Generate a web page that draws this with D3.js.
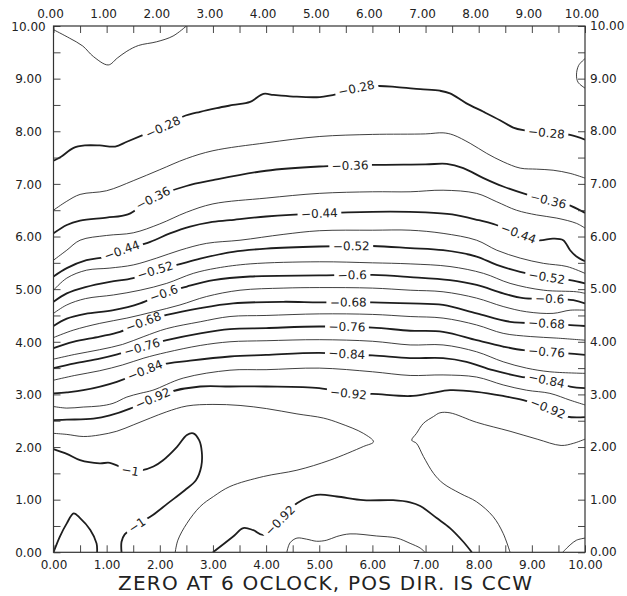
<!DOCTYPE html>
<html>
<head>
<meta charset="utf-8">
<script src="https://cdn.jsdelivr.net/npm/d3@7"></script>
<style>
  body { margin: 0; background: #fff; }
  text { font-family: "DejaVu Sans", sans-serif; fill: #222; }
</style>
</head>
<body>
<div id="chart"></div>
<script>
// Axis ticks
const majorTicks = [0, 1, 2, 3, 4, 5, 6, 7, 8, 9, 10];
const majorLabels = ["0.00", "1.00", "2.00", "3.00", "4.00", "5.00", "6.00", "7.00", "8.00", "9.00", "10.00"];
const minorTicks = [0.5, 1.5, 2.5, 3.5, 4.5, 5.5, 6.5, 7.5, 8.5, 9.5];
const title = "ZERO AT 6 OCLOCK, POS DIR. IS CCW";

// Contour lines, [x, y]
const c024a = [[0,9.93],[0.3,9.77],[0.55,9.62],[0.75,9.42],[1.03,9.26],[1.2,9.39],[1.38,9.52],[1.6,9.63],[1.94,9.70],[2.25,9.81],[2.5,10]];
const c024b = [[10,9.38],[9.88,9.25],[9.84,9.07],[9.87,8.93],[10,8.82]];
const c028 = [[0,7.44],[0.15,7.52],[0.37,7.68],[0.59,7.73],[0.87,7.73],[1.16,7.71],[1.38,7.80],[1.69,7.93],[2.06,8.08],[2.44,8.28],[2.76,8.37],[3.07,8.44],[3.38,8.50],[3.70,8.56],[3.95,8.71],[4.14,8.69],[4.51,8.66],[5.01,8.65],[5.35,8.71],[5.70,8.82],[6.11,8.86],[6.46,8.84],[6.90,8.80],[7.27,8.77],[7.46,8.72],[7.77,8.53],[8.09,8.37],[8.40,8.21],[8.65,8.07],[8.84,8.02],[9.28,7.97],[9.72,7.93],[10,7.84]];
const c032 = [[0,6.50],[0.25,6.67],[0.5,6.80],[1,6.87],[1.5,7.06],[2,7.27],[2.5,7.48],[3,7.63],[4,7.78],[5,7.90],[6,7.94],[7,7.95],[7.33,7.97],[7.52,7.93],[7.84,7.77],[8.15,7.58],[8.46,7.42],[8.78,7.30],[9.09,7.28],[9.40,7.26],[9.72,7.20],[10,7.11]];
const c036 = [[0,6.06],[0.25,6.22],[0.5,6.30],[1,6.36],[1.4,6.42],[1.87,6.73],[2.5,6.96],[3,7.07],[4,7.25],[5,7.33],[6,7.36],[7,7.37],[7.40,7.38],[7.71,7.30],[8.09,7.11],[8.46,6.95],[8.84,6.82],[9.31,6.69],[9.66,6.61],[10,6.45]];
const c040 = [[0,5.55],[0.25,5.74],[0.5,5.93],[1,6.02],[1.5,6.07],[2,6.24],[2.5,6.46],[3,6.62],[4,6.73],[5,6.82],[6,6.85],[6.71,6.85],[7.33,6.88],[7.96,6.82],[8.34,6.66],[8.71,6.50],[9.09,6.41],[9.47,6.35],[9.84,6.25],[10,6.16]];
const c044 = [[0,5.24],[0.25,5.40],[0.62,5.55],[1.0,5.62],[1.29,5.74],[1.82,5.90],[2.19,6.06],[2.57,6.19],[2.94,6.27],[3.32,6.31],[4,6.38],[5,6.44],[6,6.47],[7,6.46],[7.5,6.42],[8,6.31],[8.27,6.24],[8.75,6.06],[9.12,5.93],[9.4,5.96],[9.59,5.93],[9.72,5.74],[9.84,5.62],[10,5.53]];
const c048 = [[0,4.98],[0.25,5.21],[0.62,5.36],[1.06,5.40],[1.5,5.46],[1.94,5.59],[2.38,5.74],[2.88,5.87],[3.51,5.93],[4.32,6.04],[5,6.11],[6,6.12],[6.71,6.12],[7.33,6.06],[7.96,5.93],[8.34,5.74],[8.78,5.59],[9.22,5.49],[9.66,5.43],[10,5.30]];
const c052 = [[0,4.76],[0.25,4.92],[0.6,5.04],[1.06,5.14],[1.5,5.21],[1.91,5.36],[2.32,5.46],[2.76,5.58],[3.38,5.71],[4,5.77],[5,5.81],[6,5.82],[6.71,5.78],[7.33,5.74],[7.96,5.62],[8.34,5.46],[8.78,5.33],[9.28,5.23],[9.72,5.17],[10,5.11]];
const c056 = [[0,4.54],[0.25,4.70],[0.6,4.82],[1.13,4.89],[1.63,4.98],[2.13,5.11],[2.63,5.30],[3.07,5.40],[3.70,5.48],[5,5.52],[6,5.50],[6.71,5.48],[7.46,5.43],[8.09,5.30],[8.59,5.11],[9.22,4.98],[9.84,4.95],[10,4.92]];
const c060 = [[0,4.30],[0.25,4.44],[0.6,4.53],[1.13,4.60],[1.63,4.73],[2.07,4.92],[2.51,5.05],[3.01,5.17],[3.70,5.24],[5,5.26],[6,5.27],[6.71,5.23],[7.46,5.17],[7.96,5.08],[8.46,4.92],[8.84,4.83],[9.34,4.82],[9.78,4.79],[10,4.73]];
const c064 = [[0,4.08],[0.37,4.22],[0.87,4.35],[1.38,4.45],[1.88,4.57],[2.38,4.70],[2.88,4.86],[3.51,4.98],[4.32,5.02],[5,5.03],[6,5.02],[6.71,4.98],[7.33,4.95],[7.96,4.83],[8.46,4.67],[8.90,4.57],[9.40,4.54],[9.72,4.60],[10,4.60]];
const c068 = [[0,3.88],[0.37,4.00],[0.87,4.10],[1.25,4.19],[1.69,4.38],[2.13,4.51],[2.76,4.64],[3.38,4.73],[4.32,4.76],[5,4.75],[6,4.75],[6.71,4.73],[7.33,4.70],[7.96,4.54],[8.59,4.38],[9.28,4.35],[9.66,4.32],[10,4.30]];
const c072 = [[0,3.67],[0.4,3.76],[0.87,3.85],[1.3,3.95],[1.7,4.10],[2.13,4.25],[2.76,4.38],[3.32,4.48],[4,4.50],[5,4.53],[6,4.52],[6.71,4.48],[7.33,4.45],[7.96,4.32],[8.46,4.16],[8.97,4.10],[9.47,4.07],[10,4.03]];
const c076 = [[0,3.50],[0.4,3.59],[0.87,3.68],[1.2,3.76],[1.66,3.90],[2.13,4.03],[2.76,4.16],[3.32,4.24],[4,4.26],[5,4.29],[6,4.27],[6.71,4.21],[7.33,4.19],[7.96,4.03],[8.46,3.91],[8.84,3.84],[9.28,3.81],[9.66,3.78],[10,3.75]];
const c080 = [[0,3.27],[0.4,3.36],[0.87,3.45],[1.3,3.56],[1.7,3.69],[2.13,3.80],[2.76,3.93],[3.32,4.00],[4,4.02],[5,4.04],[6,4.01],[6.71,3.94],[7.33,3.94],[7.96,3.81],[8.46,3.62],[8.90,3.50],[9.34,3.43],[10,3.40]];
const c084 = [[0,3.02],[0.25,3.04],[0.56,3.08],[1.19,3.24],[1.72,3.46],[2.0,3.56],[2.57,3.64],[3.32,3.72],[4,3.75],[5,3.79],[6,3.74],[6.71,3.69],[7.33,3.69],[7.77,3.62],[8.27,3.46],[8.78,3.34],[9.28,3.27],[9.72,3.15],[10,3.12]];
const c088 = [[0,2.77],[0.25,2.74],[0.56,2.76],[0.87,2.78],[1.12,2.83],[1.38,2.95],[1.63,3.02],[1.87,3.08],[2.44,3.31],[3.32,3.46],[4,3.47],[5,3.50],[6,3.43],[6.71,3.36],[7.33,3.37],[7.96,3.33],[8.46,3.18],[8.90,3.08],[9.34,3.02],[9.72,2.89],[10,2.80]];
const c092a = [[0,2.51],[0.25,2.52],[0.75,2.54],[1.06,2.60],[1.44,2.73],[1.87,2.93],[2.19,3.05],[2.76,3.15],[3.32,3.15],[4,3.15],[5,3.12],[5.55,3.02],[6,3.01],[6.71,2.97],[7.08,3.02],[7.46,3.08],[7.96,3.05],[8.46,2.97],[8.84,2.89],[9.30,2.74],[9.66,2.58],[10,2.57]];
const c092b = [[3.0,0],[3.38,0.30],[3.57,0.46],[3.76,0.42],[3.95,0.33],[4.26,0.61],[4.58,0.93],[4.95,1.09],[5.33,1.06],[5.83,0.99],[6.39,0.99],[6.71,0.95],[6.90,0.88],[7.21,0.65],[7.46,0.46],[7.71,0.20],[7.87,0]];
const c096a = [[0,2.26],[0.25,2.24],[0.56,2.20],[0.87,2.23],[1.19,2.30],[1.50,2.42],[1.82,2.55],[2.13,2.67],[2.51,2.78],[3.0,2.81],[3.51,2.79],[4.01,2.73],[4.58,2.63],[5.08,2.55],[5.39,2.45],[5.83,2.26],[6.02,2.10],[5.83,2.01],[5.20,1.75],[4.58,1.56],[3.95,1.44],[3.32,1.25],[3.01,1.06],[2.76,0.87],[2.51,0.55],[2.34,0.23],[2.29,0]];
const c096b = [[10,2.15],[9.78,2.07],[9.55,2.03],[9.1,2.15],[8.59,2.30],[7.96,2.47],[7.46,2.65],[7.27,2.65],[7.15,2.58],[6.96,2.45],[6.83,2.26],[6.74,2.13],[6.83,2.07],[6.96,1.82],[7.15,1.50],[7.33,1.31],[7.65,1.12],[7.96,0.96],[8.27,0.68],[8.46,0.36],[8.59,0]];
const c096c = [[4.39,0],[4.45,0.18],[4.58,0.27],[4.76,0.25],[4.95,0.21],[5.14,0.23],[5.33,0.30],[5.58,0.35],[6.08,0.31],[6.46,0.27],[6.71,0.17],[6.90,0.08],[6.99,0]];
const c096d = [[9.58,0],[9.72,0.14],[9.84,0.23],[10,0.27]];
const c100a = [[0,1.96],[0.25,1.87],[0.50,1.75],[0.87,1.69],[1.06,1.70],[1.41,1.56],[1.63,1.55],[1.88,1.63],[2.05,1.74],[2.32,2.0],[2.51,2.23],[2.63,2.26],[2.74,2.13],[2.79,1.91],[2.78,1.63],[2.68,1.37],[2.47,1.18],[2.15,0.93],[1.87,0.71],[1.57,0.52],[1.34,0.34],[1.28,0.20],[1.28,0]];
const c100b = [[0,0],[0.12,0.30],[0.25,0.55],[0.38,0.74],[0.50,0.65],[0.69,0.43],[0.81,0.17],[0.82,0]];

// Contour labels: [level, x, y]
const contourLabels = [
  [-0.28, 2.06, 8.08], [-0.28, 5.70, 8.82], [-0.28, 9.28, 7.97],
  [-0.36, 1.87, 6.73], [-0.36, 5.58, 7.35], [-0.36, 9.31, 6.69],
  [-0.44, 1.29, 5.74], [-0.44, 5.00, 6.44], [-0.44, 8.75, 6.06],
  [-0.52, 1.91, 5.36], [-0.52, 5.60, 5.82], [-0.52, 9.28, 5.23],
  [-0.6, 2.07, 4.92], [-0.6, 5.62, 5.26], [-0.6, 9.34, 4.82],
  [-0.68, 1.69, 4.38], [-0.68, 5.55, 4.75], [-0.68, 9.28, 4.35],
  [-0.76, 1.66, 3.90], [-0.76, 5.52, 4.28], [-0.76, 9.28, 3.81],
  [-0.84, 1.72, 3.46], [-0.84, 5.52, 3.78], [-0.84, 9.28, 3.27],
  [-0.92, 1.87, 2.93], [-0.92, 5.55, 3.02], [-0.92, 9.30, 2.74], [-0.92, 4.26, 0.61],
  [-1, 1.44, 1.54], [-1, 1.57, 0.52]
];

const contours = [
  {level: -0.24, pts: c024a}, {level: -0.24, pts: c024b},
  {level: -0.28, pts: c028}, {level: -0.32, pts: c032},
  {level: -0.36, pts: c036}, {level: -0.40, pts: c040},
  {level: -0.44, pts: c044}, {level: -0.48, pts: c048},
  {level: -0.52, pts: c052}, {level: -0.56, pts: c056},
  {level: -0.6, pts: c060}, {level: -0.64, pts: c064},
  {level: -0.68, pts: c068}, {level: -0.72, pts: c072},
  {level: -0.76, pts: c076}, {level: -0.80, pts: c080},
  {level: -0.84, pts: c084}, {level: -0.88, pts: c088},
  {level: -0.92, pts: c092a}, {level: -0.92, pts: c092b},
  {level: -0.96, pts: c096a}, {level: -0.96, pts: c096b},
  {level: -0.96, pts: c096c}, {level: -0.96, pts: c096d},
  {level: -1, pts: c100a}, {level: -1, pts: c100b}
];

const margin = {top: 26, right: 42, bottom: 43.7, left: 53.5},
      width = 627 - margin.left - margin.right,
      height = 596 - margin.top - margin.bottom;

const svg = d3.select("#chart")
    .append("svg")
    .attr("width", 627)
    .attr("height", 596)
    .append("g")
    .attr("transform", `translate(${margin.left},${margin.top})`);

const x = d3.scaleLinear().domain([0, 10]).range([0, width]);
const y = d3.scaleLinear().domain([0, 10]).range([height, 0]);

const defs = svg.append("defs");
defs.append("clipPath").attr("id", "plot")
  .append("rect").attr("width", width).attr("height", height);

const line = d3.line()
    .x(d => x(d[0]))
    .y(d => y(d[1]))
    .curve(d3.curveCatmullRom.alpha(0.5));

const isThick = lv => Math.round(Math.abs(lv) * 100) % 8 === 4;

// contour paths
const lines = svg.append("g").attr("clip-path", "url(#plot)");
const paths = contours.map(c => lines.append("path")
    .attr("d", line(c.pts))
    .attr("fill", "none")
    .attr("stroke", "#1e1e1e")
    .attr("stroke-width", isThick(c.level) ? 1.8 : 0.85)
    .attr("stroke-linejoin", "round"));

// labels on the lines, with gaps cut by masks
const gaps = contours.map(() => []);
const labelG = svg.append("g");
contourLabels.forEach(([lv, lx, ly]) => {
  const tx = x(lx), ty = y(ly);
  let best = {d: Infinity};
  contours.forEach((c, i) => {
    if (Math.abs(c.level - lv) > 1e-6) return;
    const node = paths[i].node(), len = node.getTotalLength();
    for (let l = 0; l <= len; l += 0.5) {
      const p = node.getPointAtLength(l);
      const d = (p.x - tx) ** 2 + (p.y - ty) ** 2;
      if (d < best.d) best = {d, i, l, len};
    }
  });
  const node = paths[best.i].node();
  const p = node.getPointAtLength(best.l);
  const a = node.getPointAtLength(Math.max(0, best.l - 4));
  const b = node.getPointAtLength(Math.min(best.len, best.l + 4));
  let ang = Math.atan2(b.y - a.y, b.x - a.x) * 180 / Math.PI;
  if (ang > 90) ang -= 180;
  if (ang < -90) ang += 180;
  const t = labelG.append("text")
      .attr("transform", `translate(${p.x},${p.y}) rotate(${ang})`)
      .attr("text-anchor", "middle")
      .attr("dy", "0.36em")
      .attr("font-size", 12)
      .text(String(lv).replace("-", "\u2212"));
  const w = t.node().getComputedTextLength() + 7;
  gaps[best.i].push({x: p.x, y: p.y, ang, w});
});

gaps.forEach((g, i) => {
  if (!g.length) return;
  const m = defs.append("mask").attr("id", "m" + i)
      .attr("maskUnits", "userSpaceOnUse")
      .attr("x", -100).attr("y", -100).attr("width", 900).attr("height", 900);
  m.append("rect").attr("x", -100).attr("y", -100)
      .attr("width", 900).attr("height", 900).attr("fill", "#fff");
  g.forEach(r => m.append("rect")
      .attr("x", -r.w / 2).attr("y", -6).attr("width", r.w).attr("height", 12)
      .attr("transform", `translate(${r.x},${r.y}) rotate(${r.ang})`)
      .attr("fill", "#000"));
  paths[i].attr("mask", `url(#m${i})`);
});

// axes on all four sides, ticks pointing inside
function styleAxis(g) {
  g.select(".domain").remove();
  g.selectAll("line").attr("stroke", "#333").attr("stroke-width", 0.9);
  g.selectAll("text").attr("font-family", "DejaVu Sans").attr("font-size", 12).attr("fill", "#222");
}
const fmt = (d, i) => majorLabels[i];

svg.append("g").attr("transform", `translate(0,${height})`)
    .call(d3.axisBottom(x).tickValues(majorTicks).tickFormat(fmt).tickSize(-7).tickPadding(8))
    .call(styleAxis);
svg.append("g").attr("transform", `translate(0,${height})`)
    .call(d3.axisBottom(x).tickValues(minorTicks).tickFormat("").tickSize(-7))
    .call(styleAxis);

svg.append("g")
    .call(d3.axisTop(x).tickValues(majorTicks).tickFormat(fmt).tickSize(-7).tickPadding(8))
    .call(styleAxis)
    .call(g => g.selectAll("text").attr("x", -3.5));
svg.append("g")
    .call(d3.axisTop(x).tickValues(minorTicks).tickFormat("").tickSize(-7))
    .call(styleAxis);

svg.append("g")
    .call(d3.axisLeft(y).tickValues(majorTicks).tickFormat(fmt).tickSize(-7))
    .call(styleAxis)
    .call(g => g.selectAll("text").attr("text-anchor", "middle").attr("x", -25).attr("dy", "0.36em"));
svg.append("g")
    .call(d3.axisLeft(y).tickValues(minorTicks).tickFormat("").tickSize(-7))
    .call(styleAxis);

svg.append("g").attr("transform", `translate(${width},0)`)
    .call(d3.axisRight(y).tickValues(majorTicks).tickFormat(fmt).tickSize(-7).tickPadding(5))
    .call(styleAxis)
    .call(g => g.selectAll("text").attr("dy", "0.3em"));
svg.append("g").attr("transform", `translate(${width},0)`)
    .call(d3.axisRight(y).tickValues(minorTicks).tickFormat("").tickSize(-7))
    .call(styleAxis);

// frame
svg.append("rect")
    .attr("width", width).attr("height", height)
    .attr("fill", "none").attr("stroke", "#333").attr("stroke-width", 1.2);

// title under the plot
svg.append("text")
    .attr("x", 325 - margin.left)
    .attr("y", 590 - margin.top)
    .attr("text-anchor", "middle")
    .attr("font-size", 20)
    .attr("textLength", 414)
    .attr("lengthAdjust", "spacing")
    .text(title);
</script>
</body>
</html>
